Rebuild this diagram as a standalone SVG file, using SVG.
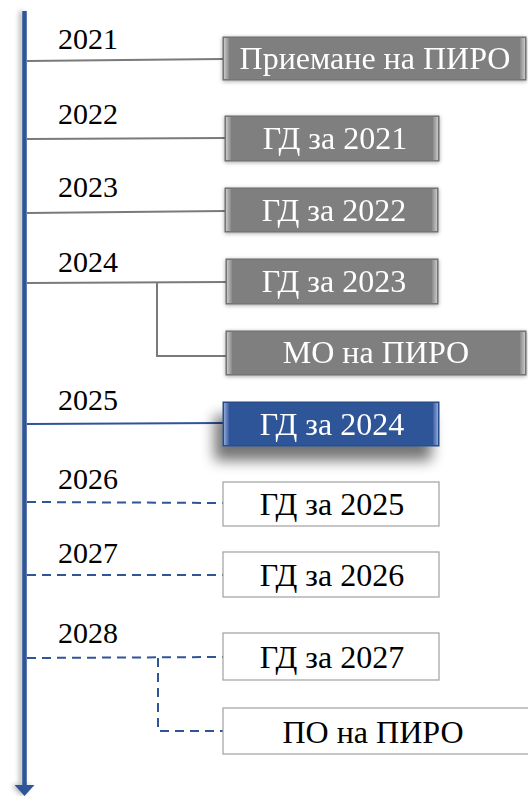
<svg xmlns="http://www.w3.org/2000/svg" width="528" height="796" viewBox="0 0 528 796">
<defs>
<filter id="sh" x="-10%" y="-30%" width="120%" height="160%">
<feGaussianBlur in="SourceAlpha" stdDeviation="2"/>
<feOffset dx="0" dy="1"/>
<feComponentTransfer><feFuncA type="linear" slope="0.35"/></feComponentTransfer>
<feMerge><feMergeNode/><feMergeNode in="SourceGraphic"/></feMerge>
</filter>
<filter id="shb" x="-30%" y="-50%" width="160%" height="260%">
<feGaussianBlur in="SourceAlpha" stdDeviation="7"/>
<feOffset dx="-8" dy="14"/>
<feComponentTransfer><feFuncA type="linear" slope="0.55"/></feComponentTransfer>
<feMerge><feMergeNode/><feMergeNode in="SourceGraphic"/></feMerge>
</filter>
<filter id="sha" x="-300%" y="-5%" width="700%" height="110%">
<feGaussianBlur in="SourceAlpha" stdDeviation="2.5"/>
<feOffset dx="-3" dy="0"/>
<feComponentTransfer><feFuncA type="linear" slope="0.3"/></feComponentTransfer>
<feMerge><feMergeNode/><feMergeNode in="SourceGraphic"/></feMerge>
</filter>
<linearGradient id="gl" x1="0" y1="0" x2="1" y2="0">
<stop offset="0" stop-color="#c8c8c8"/><stop offset="1" stop-color="#8a8a8a"/>
</linearGradient>
<linearGradient id="gr" x1="0" y1="0" x2="1" y2="0">
<stop offset="0" stop-color="#8a8a8a"/><stop offset="1" stop-color="#c8c8c8"/>
</linearGradient>
<linearGradient id="bl" x1="0" y1="0" x2="1" y2="0">
<stop offset="0" stop-color="#8fa8d8"/><stop offset="1" stop-color="#3a5fa3"/>
</linearGradient>
<linearGradient id="br" x1="0" y1="0" x2="1" y2="0">
<stop offset="0" stop-color="#3a5fa3"/><stop offset="1" stop-color="#8fa8d8"/>
</linearGradient>
</defs>
<style>
text{font-family:'Liberation Serif','Times New Roman',serif}
.yr{fill:#000;font-size:30px}
.bt{text-anchor:middle;font-size:32px}
.gbox{fill:#7f7f7f;stroke:#6a6a6a;stroke-width:1}
.gt{fill:#fff}
.bbox{fill:#2f5597;stroke:#26467e;stroke-width:1}
.wbox{fill:#fff;stroke:#a0a0a0;stroke-width:1.2}
.wt{fill:#000}
.cg{stroke:#7a7a7a;stroke-width:2;fill:none}
.cb{stroke:#2f5597;stroke-width:2;fill:none}
.cd{stroke:#2f5597;stroke-width:2;fill:none;stroke-dasharray:9 6}
</style>

<g id="axis" filter="url(#sha)">
<line x1="24.5" y1="11" x2="24.5" y2="787" stroke="#2f5597" stroke-width="4.5"/>
<polygon points="14.5,785 34.5,785 24.5,796" fill="#2f5597"/>
</g>

<g id="connectors">
<line class="cg" x1="27" y1="61" x2="223" y2="59"/>
<line class="cg" x1="27" y1="139" x2="225" y2="138"/>
<line class="cg" x1="27" y1="213" x2="225" y2="211"/>
<line class="cg" x1="27" y1="283" x2="226" y2="282"/>
<polyline class="cg" points="157,282 157,356 226,356"/>
<line class="cb" x1="27" y1="424" x2="223" y2="423"/>
<line class="cd" x1="27" y1="502" x2="223" y2="503"/>
<line class="cd" x1="27" y1="575" x2="223" y2="575"/>
<line class="cd" x1="27" y1="658" x2="223" y2="657"/>
<polyline class="cd" points="158,658 158,731 223,731"/>
</g>

<g id="years">
<text class="yr" x="58" y="49">2021</text>
<text class="yr" x="58" y="124">2022</text>
<text class="yr" x="58" y="197">2023</text>
<text class="yr" x="58" y="272">2024</text>
<text class="yr" x="58" y="410">2025</text>
<text class="yr" x="58" y="489">2026</text>
<text class="yr" x="58" y="563">2027</text>
<text class="yr" x="58" y="643">2028</text>
</g>

<g id="n1" filter="url(#sh)">
<rect class="gbox" x="223" y="37" width="303" height="43"/>
<rect x="224" y="38" width="5" height="41" fill="url(#gl)"/>
<rect x="520" y="38" width="5" height="41" fill="url(#gr)"/>
<text class="bt gt" x="375" y="69">Приемане на ПИРО</text>
</g>
<g id="n2" filter="url(#sh)">
<rect class="gbox" x="225" y="116" width="214" height="45"/>
<rect x="226" y="117" width="5" height="43" fill="url(#gl)"/>
<rect x="433" y="117" width="5" height="43" fill="url(#gr)"/>
<text class="bt gt" x="335" y="149">ГД за 2021</text>
</g>
<g id="n3" filter="url(#sh)">
<rect class="gbox" x="225" y="188" width="213" height="44"/>
<rect x="226" y="189" width="5" height="42" fill="url(#gl)"/>
<rect x="432" y="189" width="5" height="42" fill="url(#gr)"/>
<text class="bt gt" x="334" y="221">ГД за 2022</text>
</g>
<g id="n4" filter="url(#sh)">
<rect class="gbox" x="226" y="259" width="212" height="45"/>
<rect x="227" y="260" width="5" height="43" fill="url(#gl)"/>
<rect x="432" y="260" width="5" height="43" fill="url(#gr)"/>
<text class="bt gt" x="334" y="292">ГД за 2023</text>
</g>
<g id="n5" filter="url(#sh)">
<rect class="gbox" x="226" y="331" width="300" height="44"/>
<rect x="227" y="332" width="5" height="42" fill="url(#gl)"/>
<rect x="520" y="332" width="5" height="42" fill="url(#gr)"/>
<text class="bt gt" x="376" y="363">МО на ПИРО</text>
</g>
<g id="n6" filter="url(#shb)">
<rect class="bbox" x="223" y="402" width="216" height="44"/>
<rect x="224" y="403" width="5" height="42" fill="url(#bl)"/>
<rect x="433" y="403" width="5" height="42" fill="url(#br)"/>
<text class="bt gt" x="332" y="435">ГД за 2024</text>
</g>
<g id="n7">
<rect class="wbox" x="223" y="482" width="216" height="44"/>
<text class="bt wt" x="332" y="515">ГД за 2025</text>
</g>
<g id="n8">
<rect class="wbox" x="223" y="552" width="216" height="45"/>
<text class="bt wt" x="332" y="586">ГД за 2026</text>
</g>
<g id="n9">
<rect class="wbox" x="223" y="633" width="216" height="47"/>
<text class="bt wt" x="332" y="668">ГД за 2027</text>
</g>
<g id="n10">
<rect class="wbox" x="223" y="708" width="310" height="46"/>
<text class="bt wt" x="373" y="743">ПО на ПИРО</text>
</g>
</svg>
